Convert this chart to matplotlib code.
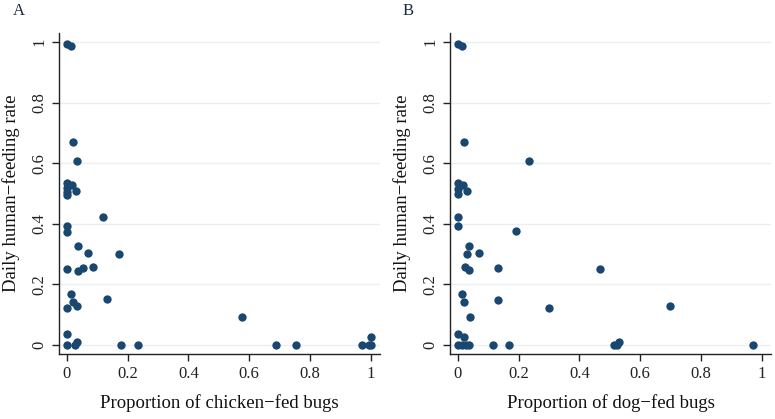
import matplotlib.pyplot as plt

# Panel A: proportion of chicken-fed bugs vs daily human-feeding rate
chicken_x = [0, 0.015, 0.021, 0.033, 0, 0.018, 0, 0, 0, 0.030,
             0.118, 0, 0, 0.035, 0.068, 0.173, 0, 0.035, 0.054, 0.086,
             0.015, 0.021, 0.032, 0, 0.133, 0, 0, 0.026, 0.032, 0.178,
             0.233, 0.576, 0.689, 0.755, 0.972, 0.994, 1.0, 0.999]
chicken_y = [0.993, 0.988, 0.670, 0.608, 0.534, 0.528, 0.517, 0.506, 0.495, 0.507,
             0.424, 0.394, 0.374, 0.325, 0.303, 0.299, 0.251, 0.244, 0.254, 0.257,
             0.167, 0.143, 0.130, 0.123, 0.150, 0.035, 0, 0, 0.009, 0,
             0, 0.093, 0, 0, 0, 0, 0, 0.025]

# Panel B: proportion of dog-fed bugs vs daily human-feeding rate
dog_x = [0, 0.015, 0.020, 0.233, 0, 0.017, 0, 0, 0.029, 0,
         0, 0.191, 0.035, 0.031, 0.068, 0.024, 0.038, 0.131, 0.466, 0.015,
         0.020, 0.133, 0.301, 0.698, 0.041, 0, 0.020, 0, 0.013, 0.026,
         0.037, 0.115, 0.169, 0.513, 0.522, 0.530, 0.971]
dog_y = [0.993, 0.988, 0.670, 0.608, 0.534, 0.528, 0.514, 0.497, 0.507, 0.424,
         0.394, 0.375, 0.325, 0.299, 0.303, 0.257, 0.246, 0.255, 0.250, 0.167,
         0.143, 0.149, 0.123, 0.129, 0.093, 0.035, 0.025, 0, 0, 0,
         0, 0, 0, 0, 0, 0.011, 0]

ticks = [0, 0.2, 0.4, 0.6, 0.8, 1]
tick_labels = ["0", "0.2", "0.4", "0.6", "0.8", "1"]

plt.rcParams["font.family"] = ["Liberation Serif", "DejaVu Serif"]

fig = plt.figure(figsize=(7.75, 4.19), dpi=100)
navy = "#1a476f"

panels = [
    ("A", chicken_x, chicken_y, "Proportion of chicken\u2212fed bugs", 59 / 775, 13 / 775),
    ("B", dog_x, dog_y, "Proportion of dog\u2212fed bugs", 450 / 775, 403 / 775),
]

for letter, xs, ys, xlabel, left, letter_x in panels:
    ax = fig.add_axes([left, 65 / 419, 321 / 775, 321 / 419])
    ax.scatter(xs, ys, s=36, color=navy, linewidths=0, zorder=3)
    ax.set_xlim(-0.026, 1.03)
    ax.set_ylim(-0.03, 1.03)
    ax.set_xticks(ticks)
    ax.set_xticklabels(tick_labels)
    ax.set_yticks(ticks)
    ax.set_yticklabels(tick_labels, rotation=90, va="center")
    ax.yaxis.grid(True, color="#eaeff4", linewidth=1.0)
    ax.set_axisbelow(True)
    for side in ["top", "right"]:
        ax.spines[side].set_visible(False)
    for side in ["left", "bottom"]:
        ax.spines[side].set_color("#222222")
        ax.spines[side].set_linewidth(1.0)
    ax.tick_params(direction="out", length=5, width=1, color="#222222",
                   labelsize=12, labelcolor="#222222")
    ax.set_xlabel(xlabel, fontsize=13.5, labelpad=9, color="#111111")
    ax.set_ylabel("Daily human\u2212feeding rate", fontsize=13.5, labelpad=8, color="#111111")
    fig.text(letter_x, 1 - 11 / 419, letter, fontsize=12, color="#1a2a40", va="center")

fig.savefig("out.png", dpi=100)
